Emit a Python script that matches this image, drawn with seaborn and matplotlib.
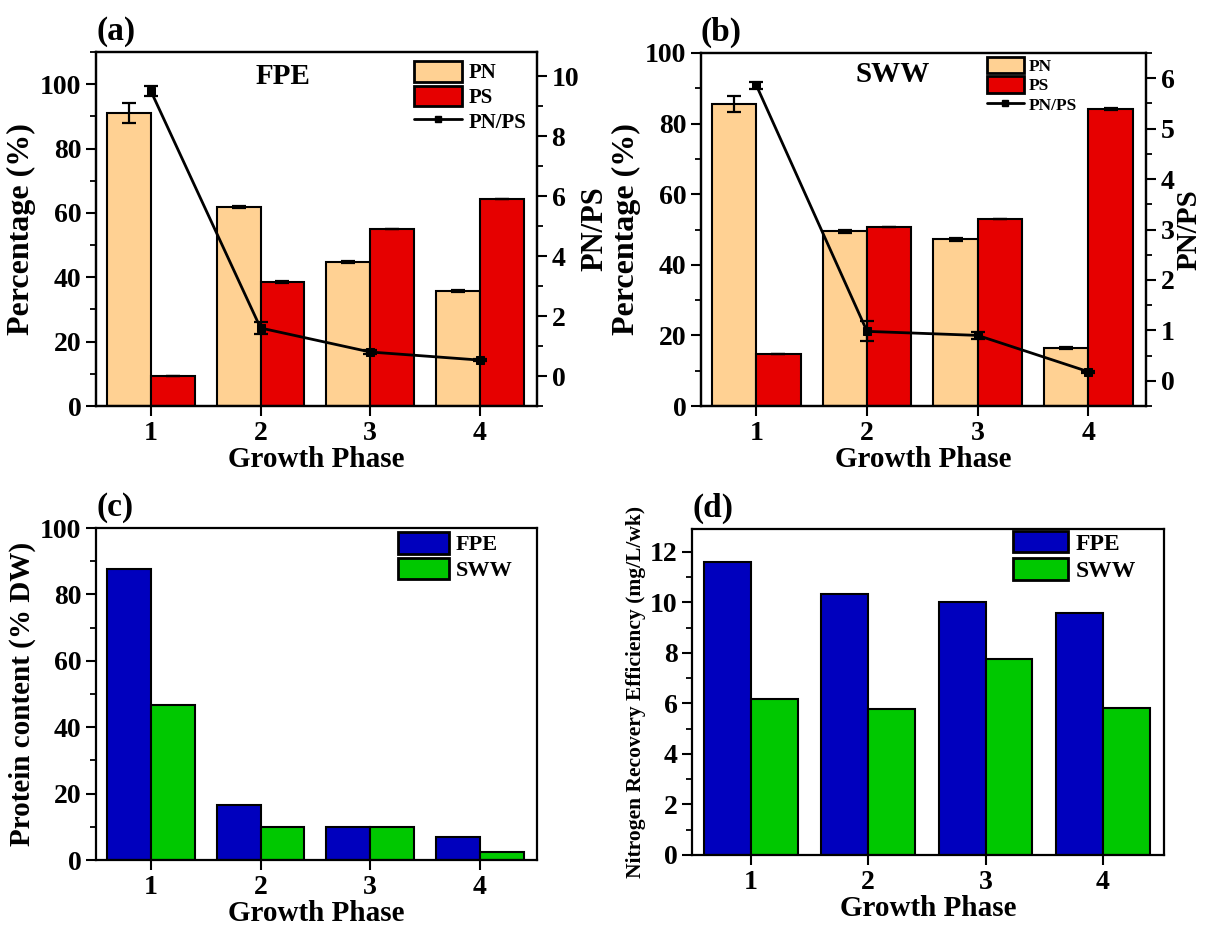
import numpy as np
import pandas as pd
import matplotlib
matplotlib.use("Agg")
import matplotlib.pyplot as plt
import seaborn as sns
from matplotlib.patches import Patch
from matplotlib.lines import Line2D
from matplotlib.ticker import MultipleLocator

# ---------------- data ----------------
phases = ["1", "2", "3", "4"]

# (a) FPE
fpe_pn = [91.0, 61.8, 44.8, 35.8]
fpe_pn_err = [3.0, 0.3, 0.3, 0.3]
fpe_ps = [9.4, 38.5, 55.0, 64.2]
fpe_ps_err = [0.0, 0.2, 0.0, 0.0]
fpe_ratio = [9.5, 1.6, 0.8, 0.53]
fpe_ratio_err = [0.17, 0.2, 0.08, 0.03]

# (b) SWW
sww_pn = [85.5, 49.5, 47.2, 16.4]
sww_pn_err = [2.3, 0.4, 0.4, 0.3]
sww_ps = [14.7, 50.7, 53.0, 84.1]
sww_ps_err = [0.0, 0.0, 0.0, 0.2]
sww_ratio = [5.86, 0.98, 0.9, 0.18]
sww_ratio_err = [0.07, 0.2, 0.07, 0.02]

# (c) protein content
prot_fpe = [87.6, 16.6, 9.9, 6.9]
prot_sww = [46.6, 9.9, 9.9, 2.4]

# (d) nitrogen recovery efficiency
nre_fpe = [11.58, 10.33, 10.02, 9.58]
nre_sww = [6.18, 5.78, 7.75, 5.80]

C_PN = "#FFD193"
C_PS = "#E60000"
C_FPE = "#0000BE"
C_SWW = "#00C800"

# ---------------- style ----------------
sns.set_style("ticks")
plt.rcParams["font.family"] = ["Liberation Serif", "DejaVu Serif"]
plt.rcParams["font.weight"] = "bold"
plt.rcParams["axes.labelweight"] = "bold"
plt.rcParams["axes.linewidth"] = 1.6
plt.rcParams["xtick.direction"] = "out"
plt.rcParams["ytick.direction"] = "out"
for k in ["text.color", "axes.labelcolor", "xtick.color", "ytick.color",
          "axes.edgecolor"]:
    plt.rcParams[k] = "black"

TICK_FS = 20
XLAB_FS = 21
YLAB_FS = 23

fig = plt.figure(figsize=(12.05, 9.25), dpi=100)

W, H = 1205, 925
def box(l, t, r, b):
    return [l / W, 1 - b / H, (r - l) / W, (b - t) / H]

ax_a = fig.add_axes(box(96, 52, 537, 406))
ax_b = fig.add_axes(box(701, 53, 1146, 406))
ax_c = fig.add_axes(box(96, 528, 537, 860))
ax_d = fig.add_axes(box(692, 529, 1164, 855))


def style_axis(ax):
    ax.tick_params(axis="both", which="major", length=7, width=1.5,
                   labelsize=TICK_FS, color="black", labelcolor="black")
    ax.tick_params(axis="y", which="minor", length=4, width=1.3,
                   color="black")
    ax.tick_params(axis="x", which="minor", length=0)
    for sp in ax.spines.values():
        sp.set_visible(True)
        sp.set_linewidth(1.6)
        sp.set_color("black")
    for lab in ax.get_xticklabels() + ax.get_yticklabels():
        lab.set_fontweight("bold")


def grouped_bars(ax, vals1, vals2, name1, name2, c1, c2):
    df = pd.DataFrame({
        "phase": phases * 2,
        "group": [name1] * len(phases) + [name2] * len(phases),
        "value": list(vals1) + list(vals2),
    })
    sns.barplot(data=df, x="phase", y="value", hue="group",
                hue_order=[name1, name2], order=phases,
                palette={name1: c1, name2: c2}, edgecolor="black",
                linewidth=1.5, errorbar=None, width=0.8, saturation=1,
                legend=False, ax=ax)
    return ax.containers


def add_errs(ax, container, vals, errs):
    xs = [b.get_x() + b.get_width() / 2 for b in container]
    ax.errorbar(xs, vals, yerr=errs, fmt="none", ecolor="black",
                elinewidth=1.6, capsize=5, capthick=1.6, zorder=5)


def ratio_panel(ax, pn, pn_err, ps, ps_err, ratio, ratio_err,
                ylim_r, r_major, r_minor, title_text, title_x, title_y,
                leg_anchor, leg_fs, hl, hh, ls, rlab_fs):
    cont = grouped_bars(ax, pn, ps, "PN", "PS", C_PN, C_PS)
    add_errs(ax, cont[0], pn, pn_err)
    add_errs(ax, cont[1], ps, ps_err)
    ax.set_xlim(-0.5, 3.52)
    ax.yaxis.set_major_locator(MultipleLocator(20))
    ax.yaxis.set_minor_locator(MultipleLocator(10))
    ax.set_xlabel("Growth Phase", fontsize=XLAB_FS, fontweight="bold",
                  labelpad=0)
    ax.set_ylabel("Percentage (%)", fontsize=YLAB_FS, fontweight="bold",
                  labelpad=3)
    style_axis(ax)

    ax2 = ax.twinx()
    pos = np.arange(len(phases))
    sns.lineplot(x=pos, y=ratio, ax=ax2, color="black", linewidth=2,
                 marker="s", markersize=6, markeredgecolor="black")
    ax2.errorbar(pos, ratio, yerr=ratio_err, fmt="none", ecolor="black",
                 elinewidth=1.6, capsize=5, capthick=1.6)
    ax2.set_ylim(*ylim_r)
    ax2.yaxis.set_major_locator(MultipleLocator(r_major))
    ax2.yaxis.set_minor_locator(MultipleLocator(r_minor))
    ax2.set_ylabel("PN/PS", fontsize=rlab_fs, fontweight="bold", labelpad=1)
    style_axis(ax2)
    ax2.set_xlim(-0.5, 3.52)

    ax.text(title_x, title_y, title_text, transform=ax.transAxes,
            fontsize=21, fontweight="bold", ha="center", va="center")

    handles = [Patch(facecolor=C_PN, edgecolor="black", linewidth=2),
               Patch(facecolor=C_PS, edgecolor="black", linewidth=2),
               Line2D([0], [0], color="black", linewidth=2, marker="s",
                      markersize=5)]
    ax2.legend(handles, ["PN", "PS", "PN/PS"], loc="upper left",
               bbox_to_anchor=leg_anchor, frameon=False, borderpad=0,
               borderaxespad=0, handlelength=hl,
               handleheight=hh, labelspacing=ls, handletextpad=0.3,
               prop={"weight": "bold", "size": leg_fs})
    return ax2


# (a)
ax_a.set_ylim(0, 110)
ratio_panel(ax_a, fpe_pn, fpe_pn_err, fpe_ps, fpe_ps_err, fpe_ratio,
            fpe_ratio_err, (-1, 10.8), 2, 1, "FPE", 0.424, 0.932,
            (0.722, 0.975), 15, 2.3, 1.15, 0.12, 22)
ax_a.set_ylim(0, 110)

# (b)
ratio_panel(ax_b, sww_pn, sww_pn_err, sww_ps, sww_ps_err, sww_ratio,
            sww_ratio_err, (-0.5, 6.5), 1, 0.5, "SWW", 0.431, 0.94,
            (0.643, 0.99), 12.5, 2.1, 1.1, 0.08, 21)
ax_b.set_ylim(0, 100)


def simple_panel(ax, v1, v2, ylim, major, minor, ylabel, ylab_fs,
                 leg_anchor, leg_fs, hl, hh, ls):
    grouped_bars(ax, v1, v2, "FPE", "SWW", C_FPE, C_SWW)
    ax.set_xlim(-0.5, 3.52)
    ax.set_ylim(*ylim)
    ax.yaxis.set_major_locator(MultipleLocator(major))
    ax.yaxis.set_minor_locator(MultipleLocator(minor))
    ax.set_xlabel("Growth Phase", fontsize=XLAB_FS, fontweight="bold",
                  labelpad=0)
    ax.set_ylabel(ylabel, fontsize=ylab_fs, fontweight="bold", labelpad=3)
    style_axis(ax)
    handles = [Patch(facecolor=C_FPE, edgecolor="black", linewidth=2),
               Patch(facecolor=C_SWW, edgecolor="black", linewidth=2)]
    ax.legend(handles, ["FPE", "SWW"], loc="upper left",
              bbox_to_anchor=leg_anchor, frameon=False, borderpad=0,
              borderaxespad=0, handlelength=hl, handleheight=hh,
              labelspacing=ls, handletextpad=0.3,
              prop={"weight": "bold", "size": leg_fs})


simple_panel(ax_c, prot_fpe, prot_sww, (0, 100), 20, 10,
             "Protein content (% DW)", 21, (0.685, 0.988), 16,
             2.3, 1.13, 0.1)
simple_panel(ax_d, nre_fpe, nre_sww, (0, 12.9), 2, 1,
             "Nitrogen Recovery Efficiency (mg/L/wk)", 15.5,
             (0.68, 0.994), 17, 2.35, 1.02, 0.15)

for ax, lab in [(ax_a, "(a)"), (ax_b, "(b)"), (ax_c, "(c)"), (ax_d, "(d)")]:
    ax.text(0.0, 1.015, lab, transform=ax.transAxes, fontsize=24,
            fontweight="bold", ha="left", va="bottom")

fig.savefig("out.png", dpi=100)
